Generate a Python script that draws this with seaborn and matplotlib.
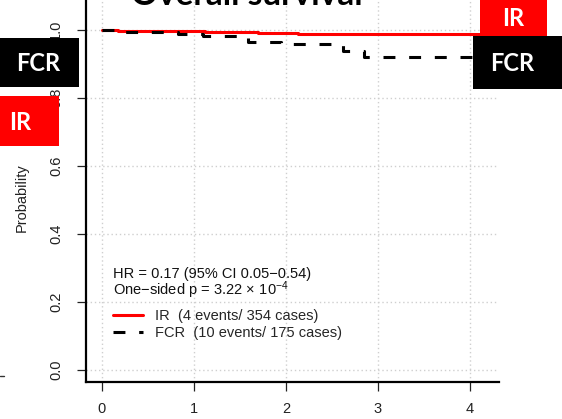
import matplotlib
matplotlib.use("Agg")
import matplotlib.pyplot as plt
from matplotlib.lines import Line2D
from matplotlib.patches import Rectangle
import seaborn as sns
import pandas as pd

# ---- data ----
ir_time = [0, 0.18, 1.12, 1.70, 2.13, 4.5]
ir_surv = [1.0, 0.997, 0.994, 0.991, 0.988, 0.988]
fcr_time = [0, 0.20, 0.83, 1.10, 1.59, 1.95, 2.62, 2.85, 4.5]
fcr_surv = [1.0, 0.994, 0.989, 0.983, 0.966, 0.960, 0.937, 0.920, 0.920]
arms = ["IR", "FCR"]
legend_labels = ["IR  (4 events/ 354 cases)", "FCR  (10 events/ 175 cases)"]
x_ticks = [0, 1, 2, 3, 4]
y_ticks = [0.0, 0.2, 0.4, 0.6, 0.8, 1.0]
y_ticklabels = ["0.0", "0.2", "0.4", "0.6", "0.8", "1.0"]
title = "Overall survival"
ylabel = "Probability"
hr_text = "HR = 0.17 (95% CI 0.05\u22120.54)"
p_text = "One\u2212sided p = 3.22$\\,\\times\\,$10$^{\\mathregular{\u22124}}$"

df = pd.concat([
    pd.DataFrame({"time": ir_time, "surv": ir_surv, "arm": "IR"}),
    pd.DataFrame({"time": fcr_time, "surv": fcr_surv, "arm": "FCR"}),
], ignore_index=True)

sns.set_style("white")
plt.rcParams["font.family"] = ["Liberation Sans", "DejaVu Sans"]
plt.rcParams["mathtext.fontset"] = "custom"
plt.rcParams["mathtext.rm"] = "Liberation Sans"
plt.rcParams["mathtext.it"] = "Liberation Sans:italic"

W, H = 562, 419
fig = plt.figure(figsize=(W / 100, H / 100), dpi=100)

def fx(px):
    return px / W

def fy(py):
    return 1 - py / H

ax_l, ax_r, ax_t, ax_b = 86, 499, 0, 382
ax = fig.add_axes([fx(ax_l), fy(ax_b), (ax_r - ax_l) / W, (ax_b - ax_t) / H])

colors = {"IR": "#FF0000", "FCR": "#000000"}
sns.lineplot(data=df, x="time", y="surv", hue="arm", style="arm",
             hue_order=arms, style_order=arms, palette=colors,
             dashes={"IR": "", "FCR": (3.9, 4.5)},
             drawstyle="steps-post", estimator=None, sort=False,
             linewidth=2.2, legend=False, ax=ax)
for ln in ax.lines:
    ln.set_clip_on(False)
    ln.set_zorder(3)

x0, ppx = 101.7, 92.1
y0, ppy = 370.0, 340.0
ax.set_xlim((ax_l - x0) / ppx, (ax_r - x0) / ppx)
ax.set_ylim((y0 - ax_b) / ppy, (y0 - ax_t) / ppy)

ax.set_xticks(x_ticks)
ax.set_xticklabels([str(t) for t in x_ticks])
ax.set_yticks(y_ticks)
ax.set_yticklabels(y_ticklabels, rotation=90, va="center")
ax.set_xlabel("")
ax.set_ylabel(ylabel, fontsize=10.5, color="#222222")
ax.yaxis.set_label_coords(-0.138, 0.482)

ax.grid(True, color="#cfcfcf", linestyle=(0, (1, 2)), linewidth=1.0)
ax.set_axisbelow(True)
for s in ["top", "right"]:
    ax.spines[s].set_visible(False)
for s in ["left", "bottom"]:
    ax.spines[s].set_color("black")
    ax.spines[s].set_linewidth(1.6)
ax.tick_params(axis="x", length=6.5, width=0.9, pad=8, labelsize=10.5,
               colors="#222222", bottom=True)
ax.tick_params(axis="y", length=6.5, width=0.9, pad=10, labelsize=10.5,
               colors="#222222", left=True)

# annotation text
fig.text(fx(113), fy(278), hr_text, fontsize=10.5, va="baseline", ha="left", color="#111111")
fig.text(fx(113), fy(295), p_text, fontsize=10.5, va="baseline", ha="left", color="#111111")

handles = [Line2D([], [], color=colors["IR"], lw=2.2),
           Line2D([], [], color=colors["FCR"], lw=2.2, dashes=(3.9, 4.5))]
ax.legend(handles, legend_labels, loc="upper left",
          bbox_to_anchor=(fx(113), fy(309)), bbox_transform=fig.transFigure,
          frameon=False, fontsize=10.5, borderpad=0, borderaxespad=0,
          handlelength=2.05, handletextpad=0.82, labelspacing=0.2)

# title (cut off at top of the picture)
fig.text(fx(247), fy(5), title, fontsize=24, fontweight="bold",
         family=["Lato", "DejaVu Sans"], ha="center", va="baseline", color="black")

# overlay label boxes
boxes = [
    (480, 0, 547, 36, "#FF0000", "IR", 513),
    (473, 36, 562, 89, "#000000", "FCR", 512),
    (0, 38, 79, 87, "#000000", "FCR", 38),
    (0, 96, 59, 146, "#FF0000", "IR", 20),
]
for (x1, y1, x2, y2, c, lab, tx) in boxes:
    fig.patches.append(Rectangle((fx(x1), fy(y2)), (x2 - x1) / W, (y2 - y1) / H,
                                 transform=fig.transFigure, facecolor=c,
                                 edgecolor="none", zorder=10))
    fig.text(fx(tx), fy((y1 + y2) / 2 + 1), lab, fontsize=17, fontweight="bold",
             family=["Lato", "DejaVu Sans"], color="white", ha="center",
             va="center", zorder=11)

fig.lines.append(Line2D([0, fx(4)], [fy(376), fy(376)], transform=fig.transFigure,
                        color="#333333", lw=1))

fig.savefig("out.png", dpi=100)
